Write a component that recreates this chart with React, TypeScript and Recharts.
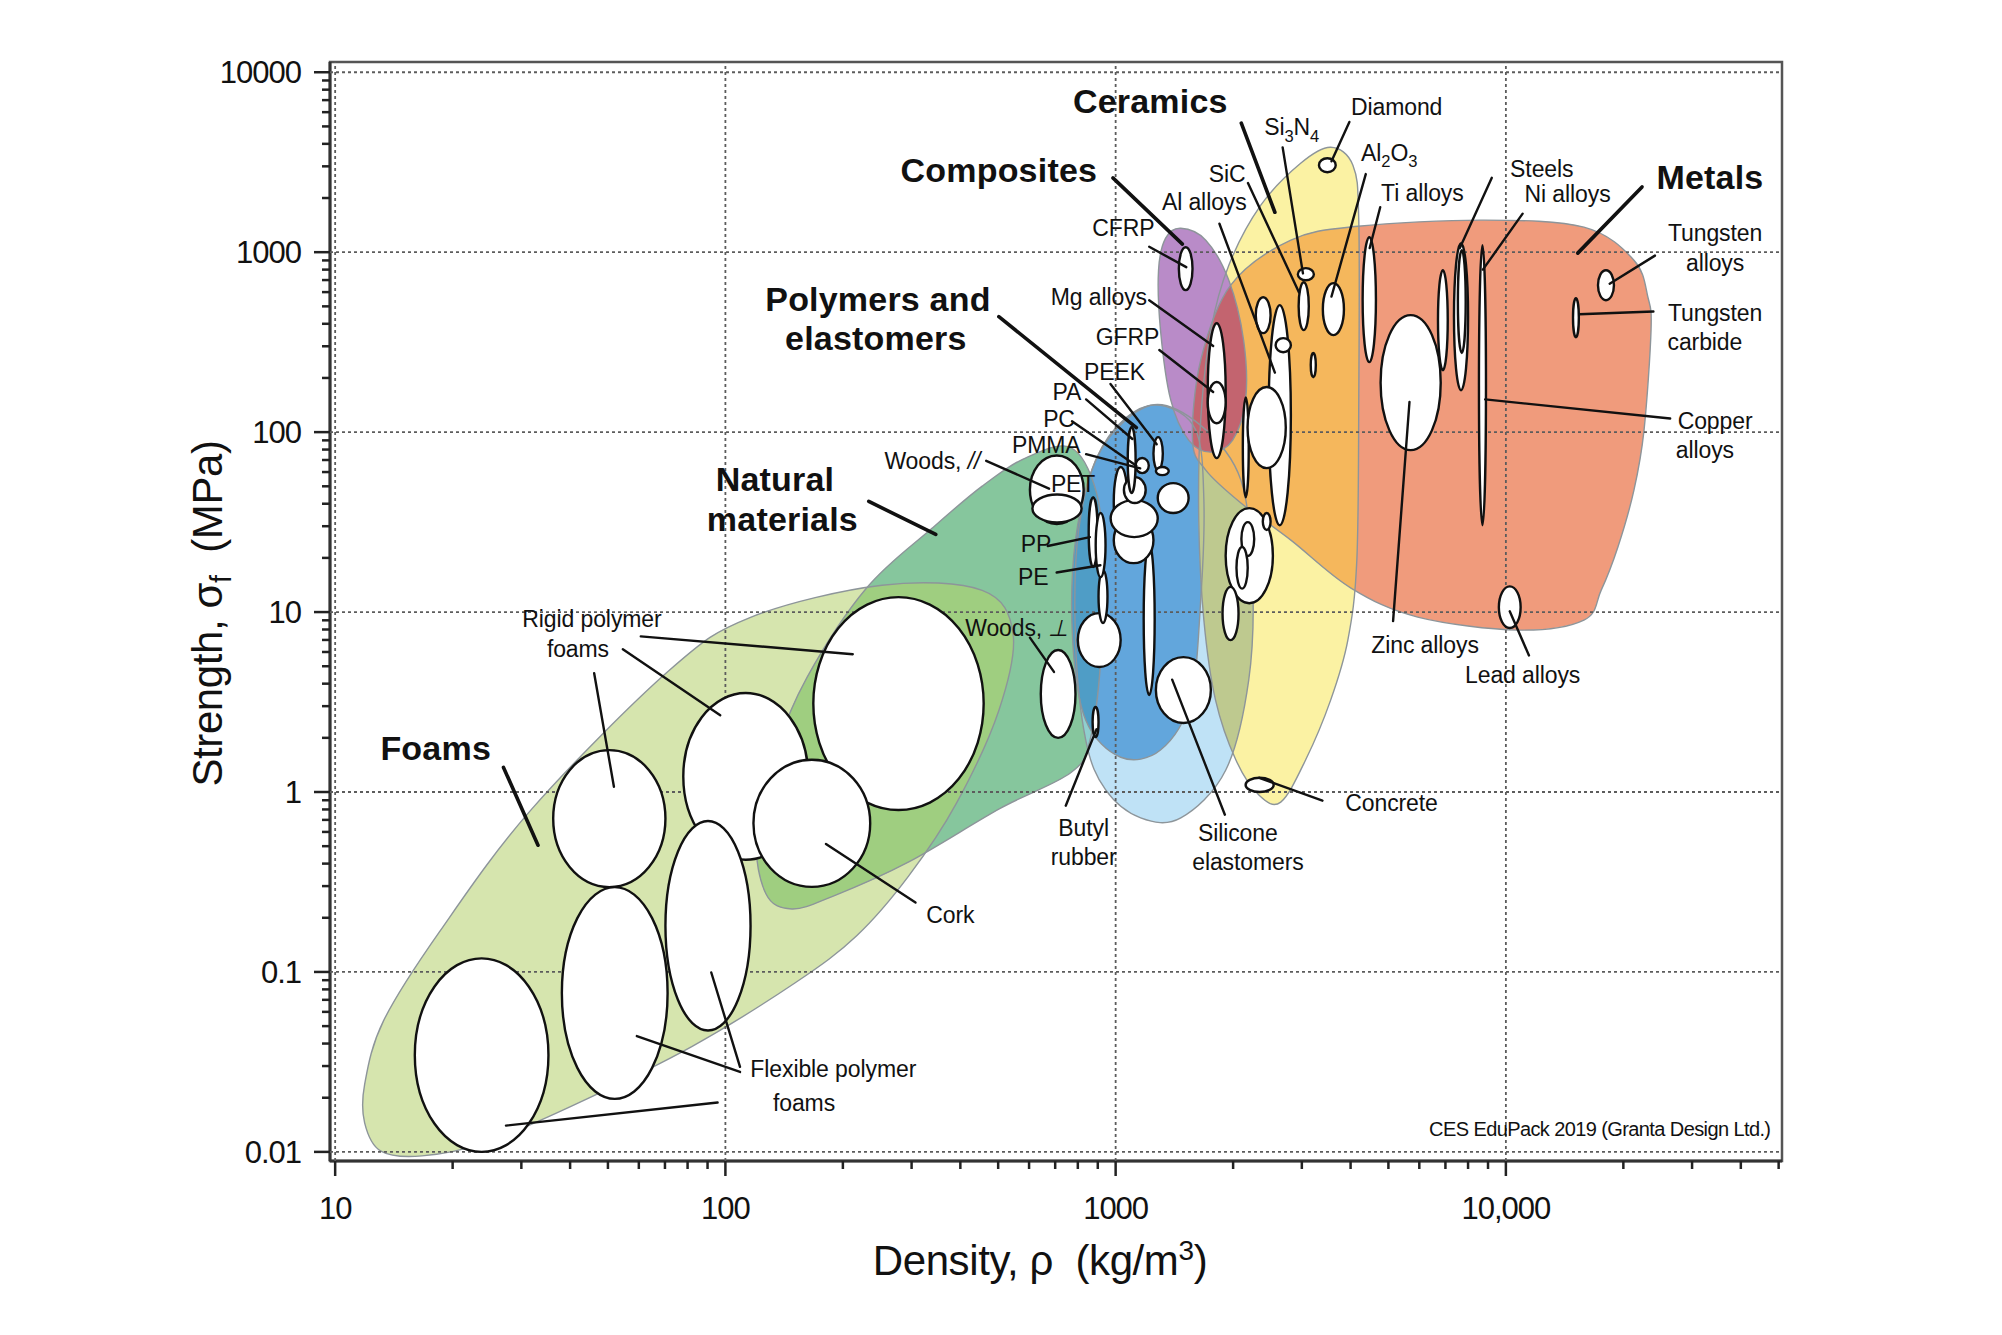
import React from 'react';
import { ScatterChart, Scatter, XAxis, YAxis, ReferenceArea } from 'recharts';

const FONT = '"Liberation Sans", Arial, Helvetica, sans-serif';

// axes (density kg/m3, strength MPa)
const X_DOMAIN = [9.7, 51000];
const Y_DOMAIN = [0.0089, 11400];
const X_MAJOR = [10, 100, 1000, 10000];
const X_MAJOR_LABELS = ['10', '100', '1000', '10,000'];
const X_MINOR = [20, 30, 40, 50, 60, 70, 80, 90, 200, 300, 400, 500, 600, 700, 800, 900,
  2000, 3000, 4000, 5000, 6000, 7000, 8000, 9000, 20000, 30000, 40000, 50000];
const Y_MAJOR = [0.01, 0.1, 1, 10, 100, 1000, 10000];
const Y_MAJOR_LABELS = ['0.01', '0.1', '1', '10', '100', '1000', '10000'];
const Y_MINOR = [0.02, 0.03, 0.04, 0.05, 0.06, 0.07, 0.08, 0.09, 0.2, 0.3, 0.4, 0.5, 0.6, 0.7, 0.8, 0.9,
  2, 3, 4, 5, 6, 7, 8, 9, 20, 30, 40, 50, 60, 70, 80, 90, 200, 300, 400, 500, 600, 700, 800, 900,
  2000, 3000, 4000, 5000, 6000, 7000, 8000, 9000];

// family envelopes: [density, strength] outline points
const FOAMS_ENV = [[11.9, 0.0237], [13.3, 0.0535], [18.5, 0.167], [31.8, 0.798], [71.6, 4.72], [116, 9.35],
  [252, 14.1], [455, 13.2], [546, 7.57], [502, 2.84], [391, 0.867], [295, 0.342], [217, 0.159], [151, 0.0871],
  [82, 0.0385], [41.5, 0.0185], [24.4, 0.0113], [16.7, 0.0095], [13.1, 0.0101], [11.9, 0.0145]];
const NATURAL_ENV = [[127, 0.272], [120, 0.568], [134, 1.64], [162, 4.35], [230, 13.6], [339, 29.3], [455, 50.1],
  [589, 72], [767, 82], [893, 46.2], [927, 18.8], [914, 5.12], [859, 1.93], [767, 1.28], [506, 0.811],
  [295, 0.409], [189, 0.264], [148, 0.224]];
const ELASTOMERS_ENV = [[1230, 141], [1652, 109], [2094, 54.1], [2244, 15.1], [2193, 4.19], [1914, 1.32],
  [1469, 0.718], [1159, 0.718], [942, 1.03], [838, 1.95], [789, 6.98], [804, 28.6], [916, 79.4]];
const POLYMERS_ENV = [[1303, 141], [1603, 103], [1683, 41.9], [1652, 11.7], [1556, 3.24], [1303, 1.71],
  [1030, 1.56], [838, 2.51], [776, 6.98], [789, 25.1], [889, 69.8], [1062, 120]];
const CERAMICS_ENV = [[3556, 3828], [4055, 3041], [4198, 1507], [4198, 151], [4150, 19.4], [3936, 6.98],
  [3556, 3.24], [3069, 1.51], [2649, 0.879], [2328, 0.962], [2032, 1.51], [1803, 3.24], [1683, 9.03],
  [1633, 32.4], [1652, 117], [1754, 369], [1950, 847], [2355, 1824], [2979, 3119]];
const METALS_ENV = [[1574, 90.3], [1652, 251], [1972, 656], [2812, 1166], [4178, 1393], [8790, 1507],
  [15850, 1377], [21290, 903], [23120, 562], [23550, 369], [22600, 103], [21290, 47.6], [19370, 23.0],
  [17540, 13.2], [15850, 9.03], [10740, 7.94], [5943, 9.38], [4009, 13.6], [2812, 25.1], [2094, 40.4],
  [1702, 61.5]];
const COMPOSITES_ENV = [[1469, 1358], [1702, 1166], [1950, 698], [2128, 324], [2153, 151], [1995, 90.3],
  [1754, 77.4], [1538, 90.3], [1384, 151], [1303, 369], [1288, 794], [1343, 1197]];

// material bubbles: [densityLo, densityHi, strengthLo, strengthHi]
const POLYMER_BUBBLES = [[1180, 1259, 3.46, 24.2], [1268, 1754, 2.42, 5.62], [873, 904, 2.02, 2.97],
  [800, 1030, 4.95, 9.87], [904, 953, 8.69, 17.1], [853, 899, 17.8, 43.5], [889, 942, 15.6, 35.5],
  [989, 1074, 26.1, 64], [989, 1250, 18.7, 33.7], [971, 1282, 26.1, 41.9], [1050, 1194, 40.4, 56.2],
  [1282, 1538, 35.5, 52.1], [1074, 1125, 45.8, 107], [1250, 1321, 61.5, 93.8], [1268, 1368, 57.7, 64],
  [1125, 1216, 59.2, 71.8]];
const NATURAL_BUBBLES = [[643, 789, 2.0, 6.15], [603, 828, 30.8, 74.1], [612, 818, 31.5, 45]];
const FOAM_BUBBLES = [[36.2, 70.2, 0.296, 1.71], [78, 163, 0.42, 3.55], [168, 459, 0.794, 12.1],
  [118, 235, 0.297, 1.51], [16.0, 35.2, 0.0100, 0.119], [38.1, 71.1, 0.0197, 0.296], [70.2, 116, 0.0473, 0.69]];
const CERAMIC_BUBBLES = [[3319, 3664, 2782, 3327], [2286, 2495, 355, 562], [2944, 3126, 369, 681],
  [2930, 3221, 698, 815], [3396, 3846, 346, 673], [3162, 3258, 202, 275], [2118, 2193, 43.5, 156],
  [1914, 2529, 11.2, 37.8], [2100, 2265, 20.5, 31.6], [2040, 2180, 13.5, 23], [2383, 2495, 28.6, 35.5],
  [1879, 2065, 6.98, 13.8], [2153, 2541, 1.0, 1.2]];
const METAL_BUBBLES = [[1722, 1914, 71.8, 403], [2466, 2812, 30.4, 508], [2570, 2812, 278, 333],
  [2178, 2729, 63.1, 178], [4295, 4645, 245, 1211], [4775, 6808, 79.4, 447], [6699, 7096, 221, 794],
  [7362, 8000, 171, 1122], [7534, 7889, 275, 1026], [8531, 8892, 30.4, 1094], [17220, 18920, 541, 794],
  [14860, 15380, 337, 555], [9594, 10910, 8.15, 13.9]];
const COMPOSITE_BUBBLES = [[1452, 1574, 615, 1066], [1722, 1914, 112, 190]];

// labels: [density, strength] of the text centre
const FAMILY_LABELS = [
  { text: 'Ceramics', x: 1227, y: 6870 },
  { text: 'Composites', x: 502, y: 2851 },
  { text: 'Polymers and', x: 246, y: 548 },
  { text: 'elastomers', x: 243, y: 333 },
  { text: 'Natural', x: 134, y: 54.5 },
  { text: 'materials', x: 140, y: 33.0 },
  { text: 'Foams', x: 18.1, y: 1.75 },
  { text: 'Metals', x: 33340, y: 2630 },
];
const MATERIAL_LABELS = [
  { text: 'Si3N4', x: 2825, y: 4965, chem: true },
  { text: 'Diamond', x: 5248, y: 6442 },
  { text: 'Al2O3', x: 5023, y: 3582, chem: true },
  { text: 'SiC', x: 1932, y: 2716 },
  { text: 'Al alloys', x: 1687, y: 1897 },
  { text: 'Ti alloys', x: 6109, y: 2128 },
  { text: 'Steels', x: 12360, y: 2897 },
  { text: 'Ni alloys', x: 14390, y: 2094 },
  { text: 'Tungsten', x: 34360, y: 1282 },
  { text: 'alloys', x: 34360, y: 867 },
  { text: 'Tungsten', x: 34360, y: 459 },
  { text: 'carbide', x: 32360, y: 316 },
  { text: 'Copper', x: 34360, y: 115 },
  { text: 'alloys', x: 32360, y: 79.1 },
  { text: 'CFRP', x: 1047, y: 1371 },
  { text: 'Mg alloys', x: 906, y: 567 },
  { text: 'GFRP', x: 1072, y: 337 },
  { text: 'PEEK', x: 993, y: 217 },
  { text: 'PA', x: 750, y: 168 },
  { text: 'PC', x: 716, y: 119 },
  { text: 'PMMA', x: 664, y: 84.5 },
  { text: 'Woods, ', sym: '//', x: 339, y: 69.3 },
  { text: 'PET', x: 778, y: 51.8 },
  { text: 'PP', x: 625, y: 24.0 },
  { text: 'PE', x: 615, y: 15.7 },
  { text: 'Woods, ', sym: '⊥', x: 558, y: 8.2 },
  { text: 'Rigid polymer', x: 45.5, y: 9.2 },
  { text: 'foams', x: 41.9, y: 6.22 },
  { text: 'Zinc alloys', x: 6206, y: 6.53 },
  { text: 'Lead alloys', x: 11040, y: 4.5 },
  { text: 'Concrete', x: 5093, y: 0.867 },
  { text: 'Butyl', x: 828, y: 0.635 },
  { text: 'rubber', x: 828, y: 0.437 },
  { text: 'Silicone', x: 2056, y: 0.596 },
  { text: 'elastomers', x: 2183, y: 0.409 },
  { text: 'Cork', x: 377, y: 0.207 },
  { text: 'Flexible polymer', x: 189, y: 0.0288 },
  { text: 'foams', x: 159, y: 0.0188 },
];
const SOURCE_NOTE = [{ text: 'CES EduPack 2019 (Granta Design Ltd.)', x: 47640, y: 0.0134 }];

// leader lines: [x0, y0, x1, y1]
const FAMILY_LEADERS = [[2099, 5212, 2559, 1667], [984, 2588, 1483, 1109], [502, 438, 1130, 106],
  [233, 41.2, 346, 27.0], [27.0, 1.37, 33.1, 0.506], [22330, 2306, 15280, 988]];
const MATERIAL_LEADERS = [[2679, 3822, 3020, 762], [3972, 5297, 3574, 3199], [4375, 2716, 3574, 567],
  [2183, 2421, 2951, 597], [1845, 1439, 2559, 214], [4764, 1778, 4477, 1054], [9204, 2588, 7621, 1054],
  [11040, 1637, 8730, 800], [24100, 957, 18450, 668], [23880, 468, 15420, 452], [26360, 119, 8851, 152],
  [5140, 8.91, 5662, 147], [11460, 5.74, 10230, 10.1], [3388, 0.895, 2333, 1.2], [1905, 0.748, 1396, 4.21],
  [745, 0.839, 893, 2.23], [307, 0.243, 181, 0.514], [603, 7.21, 695, 4.65], [670, 23.3, 859, 26.1],
  [706, 16.6, 914, 18.2], [60.7, 7.33, 212, 5.83], [54.6, 6.22, 97.0, 2.67], [46.1, 4.57, 51.8, 1.07],
  [109, 0.0297, 92.0, 0.0993], [109, 0.0278, 59.3, 0.044], [95.5, 0.0188, 27.4, 0.014],
  [466, 69.3, 675, 48.5], [1219, 1072, 1517, 826], [1219, 541, 1778, 301], [1294, 286, 1778, 167],
  [970, 185, 1274, 85.7], [840, 152, 1104, 91.6], [773, 115, 1130, 65.0], [840, 75.4, 1156, 62.9]];

const toPts = (arr: number[][]) => arr.map(([x, y]) => ({ x, y }));
const toCorners = (arr: number[][]) => arr.flatMap(([x0, x1, y0, y1]) => [{ x: x0, y: y0 }, { x: x1, y: y1 }]);
const toPairs = (arr: number[][]) => arr.flatMap(([x0, y0, x1, y1]) => [{ x: x0, y: y0 }, { x: x1, y: y1 }]);

const GRID_DATA = [
  ...Y_MAJOR.flatMap((v) => [{ x: X_DOMAIN[0], y: v }, { x: X_DOMAIN[1], y: v }]),
  ...X_MAJOR.flatMap((v) => [{ x: v, y: Y_DOMAIN[0] }, { x: v, y: Y_DOMAIN[1] }]),
];

// closed Catmull-Rom curve through pixel points
function closedCurve(pts: { x: number; y: number }[]) {
  const n = pts.length;
  let d = `M${pts[0].x},${pts[0].y}`;
  for (let i = 0; i < n; i++) {
    const p0 = pts[(i - 1 + n) % n];
    const p1 = pts[i];
    const p2 = pts[(i + 1) % n];
    const p3 = pts[(i + 2) % n];
    d += `C${p1.x + (p2.x - p0.x) / 6},${p1.y + (p2.y - p0.y) / 6} ${p2.x - (p3.x - p1.x) / 6},${p2.y - (p3.y - p1.y) / 6} ${p2.x},${p2.y}`;
  }
  return d + 'Z';
}

const envelope = (id: string, fill: string, clipBy?: string) => (props: any) => {
  const pts = props.points || [];
  if (!pts.length) return <g />;
  const d = closedCurve(pts);
  return (
    <g>
      {!clipBy && (
        <defs>
          <clipPath id={`clip-${id}`}>
            <path d={d} />
          </clipPath>
        </defs>
      )}
      <path d={d} fill={fill} stroke="none" clipPath={clipBy ? `url(#clip-${clipBy})` : undefined} />
    </g>
  );
};

const outline = (props: any) => {
  const pts = props.points || [];
  if (!pts.length) return <g />;
  return <path d={closedCurve(pts)} fill="none" stroke="#8d959a" strokeWidth={1.4} />;
};

const bubbles = (props: any) => {
  const pts = props.points || [];
  const out = [];
  for (let i = 0; i + 1 < pts.length; i += 2) {
    const a = pts[i];
    const b = pts[i + 1];
    out.push(
      <ellipse key={i} cx={(a.x + b.x) / 2} cy={(a.y + b.y) / 2} rx={Math.abs(b.x - a.x) / 2}
        ry={Math.abs(b.y - a.y) / 2} fill="#fff" stroke="#111" strokeWidth={2.4} />
    );
  }
  return <g>{out}</g>;
};

const segments = (width: number, color: string, dash?: string) => (props: any) => {
  const pts = props.points || [];
  const out = [];
  for (let i = 0; i + 1 < pts.length; i += 2) {
    out.push(
      <line key={i} x1={pts[i].x} y1={pts[i].y} x2={pts[i + 1].x} y2={pts[i + 1].y}
        stroke={color} strokeWidth={width} strokeDasharray={dash} strokeLinecap={dash ? 'butt' : 'round'} />
    );
  }
  return <g>{out}</g>;
};

const noDot = () => <g />;

function richText(p: any, size: number) {
  if (p.sym) {
    return [<tspan key="a">{p.text}</tspan>, <tspan key="b" fontStyle="italic">{p.sym}</tspan>];
  }
  if (!p.chem) return p.text;
  const parts: string[] = p.text.match(/[0-9]+|[^0-9]+/g) || [];
  let low = false;
  return parts.map((s, i) => {
    if (/^[0-9]+$/.test(s)) {
      low = true;
      return <tspan key={i} dy={size * 0.3} fontSize={size * 0.72}>{s}</tspan>;
    }
    const dy = low ? -size * 0.3 : 0;
    low = false;
    return <tspan key={i} dy={dy}>{s}</tspan>;
  });
}

const makeLabel = (size: number, weight: number, spacing: number, anchor: string) => (props: any) => {
  const p = props.payload || props;
  return (
    <text x={props.cx} y={props.cy + size * 0.35} textAnchor={anchor} fontFamily={FONT} fontSize={size}
      fontWeight={weight} fill="#111" letterSpacing={spacing} style={{ whiteSpace: 'pre' }}>
      {richText(p, size)}
    </text>
  );
};
const FamilyLabel = makeLabel(34, 700, 0.2, 'middle');
const MaterialLabel = makeLabel(23, 400, -0.1, 'middle');
const NoteLabel = makeLabel(20, 400, -0.6, 'end');

const XTick = (props: any) => {
  const { x, y, payload } = props;
  const idx = X_MAJOR.indexOf(payload.value);
  const major = idx >= 0;
  return (
    <g>
      <line x1={x} y1={y} x2={x} y2={y + (major ? 15 : 8)} stroke="#222" strokeWidth={2.5} />
      {major && (
        <text x={x} y={y + 58} textAnchor="middle" fontFamily={FONT} fontSize={31} fill="#111" letterSpacing={-1}>
          {X_MAJOR_LABELS[idx]}
        </text>
      )}
    </g>
  );
};

const YTick = (props: any) => {
  const { x, y, payload } = props;
  const idx = Y_MAJOR.indexOf(payload.value);
  const major = idx >= 0;
  return (
    <g>
      <line x1={x} y1={y} x2={x - (major ? 16 : 8)} y2={y} stroke="#222" strokeWidth={2.5} />
      {major && (
        <text x={x - 29} y={y + 11} textAnchor="end" fontFamily={FONT} fontSize={31} fill="#111" letterSpacing={-1}>
          {Y_MAJOR_LABELS[idx]}
        </text>
      )}
    </g>
  );
};

const XTitle = (props: any) => {
  const vb = props.viewBox || { x: 330, y: 1161, width: 1452, height: 80 };
  const cx = vb.x + vb.width / 2 - 16;
  return (
    <text x={cx} y={vb.y + 114} textAnchor="middle" fontFamily={FONT} fontSize={42} fill="#111"
      letterSpacing={-0.4} style={{ whiteSpace: 'pre' }}>
      <tspan>Density, ρ  (kg/m</tspan>
      <tspan dy={-15} fontSize={28}>3</tspan>
      <tspan dy={15}>)</tspan>
    </text>
  );
};

const YTitle = (props: any) => {
  const vb = props.viewBox || { x: 230, y: 62, width: 100, height: 1099 };
  const cx = vb.x - 8;
  const cy = vb.y + vb.height / 2 + 2;
  return (
    <text x={cx} y={cy} transform={`rotate(-90 ${cx} ${cy})`} textAnchor="middle" fontFamily={FONT}
      fontSize={42} fill="#111" letterSpacing={-0.4} style={{ whiteSpace: 'pre' }}>
      <tspan>Strength, σ</tspan>
      <tspan dy={9} fontSize={29}>f</tspan>
      <tspan dy={-9}>  (MPa)</tspan>
    </text>
  );
};

export default function App() {
  const common = { isAnimationActive: false, shape: noDot, legendType: 'none' as const };
  return (
    <div style={{ position: 'absolute', left: 0, top: 0, width: 2002, height: 1335, background: '#fff' }}>
      <ScatterChart width={2002} height={1335} margin={{ top: 62, right: 220, bottom: 94, left: 230 }}>
        <XAxis type="number" dataKey="x" scale="log" domain={X_DOMAIN} allowDataOverflow
          ticks={[...X_MAJOR, ...X_MINOR]} interval={0} tick={<XTick />} tickLine={false} tickSize={0}
          tickMargin={0} axisLine={{ stroke: '#333', strokeWidth: 3 }} height={80} label={<XTitle />} />
        <YAxis type="number" dataKey="y" scale="log" domain={Y_DOMAIN} allowDataOverflow
          ticks={[...Y_MAJOR, ...Y_MINOR]} interval={0} tick={<YTick />} tickLine={false} tickSize={0}
          tickMargin={0} axisLine={{ stroke: '#333', strokeWidth: 3 }} width={100} label={<YTitle />} />

        {/* envelope fills and their overlaps */}
        <Scatter {...common} data={toPts(FOAMS_ENV)} line={envelope('foams', '#d6e5ae')} />
        <Scatter {...common} data={toPts(NATURAL_ENV)} line={envelope('natural', '#86c69d')} />
        <Scatter {...common} data={toPts(NATURAL_ENV)} line={envelope('nat-foam', '#9fce80', 'foams')} />
        <Scatter {...common} data={toPts(ELASTOMERS_ENV)} line={envelope('elastomers', '#bfe2f6')} />
        <Scatter {...common} data={toPts(POLYMERS_ENV)} line={envelope('polymers', '#62a6dc')} />
        <Scatter {...common} data={toPts(ELASTOMERS_ENV)} line={envelope('el-nat', '#8fcfcf', 'natural')} />
        <Scatter {...common} data={toPts(POLYMERS_ENV)} line={envelope('pol-nat', '#4f9dc6', 'natural')} />
        <Scatter {...common} data={toPts(CERAMICS_ENV)} line={envelope('ceramics', '#fbf2a3')} />
        <Scatter {...common} data={toPts(ELASTOMERS_ENV)} line={envelope('el-cer', '#bec98f', 'ceramics')} />
        <Scatter {...common} data={toPts(METALS_ENV)} line={envelope('metals', '#f09b7c')} />
        <Scatter {...common} data={toPts(METALS_ENV)} line={envelope('met-cer', '#f5b75c', 'ceramics')} />
        <Scatter {...common} data={toPts(COMPOSITES_ENV)} line={envelope('composites', '#b98bc8')} />
        <Scatter {...common} data={toPts(COMPOSITES_ENV)} line={envelope('comp-met', '#c3646f', 'metals')} />

        {/* envelope outlines */}
        <Scatter {...common} data={toPts(FOAMS_ENV)} line={outline} />
        <Scatter {...common} data={toPts(NATURAL_ENV)} line={outline} />
        <Scatter {...common} data={toPts(ELASTOMERS_ENV)} line={outline} />
        <Scatter {...common} data={toPts(POLYMERS_ENV)} line={outline} />
        <Scatter {...common} data={toPts(CERAMICS_ENV)} line={outline} />
        <Scatter {...common} data={toPts(METALS_ENV)} line={outline} />
        <Scatter {...common} data={toPts(COMPOSITES_ENV)} line={outline} />

        {/* dotted grid */}
        <Scatter {...common} data={GRID_DATA} line={segments(1.8, '#5c5c5c', '3 3')} />

        {/* material bubbles */}
        <Scatter {...common} data={toCorners(POLYMER_BUBBLES)} line={bubbles} />
        <Scatter {...common} data={toCorners(NATURAL_BUBBLES)} line={bubbles} />
        <Scatter {...common} data={toCorners(FOAM_BUBBLES)} line={bubbles} />
        <Scatter {...common} data={toCorners(CERAMIC_BUBBLES)} line={bubbles} />
        <Scatter {...common} data={toCorners(METAL_BUBBLES)} line={bubbles} />
        <Scatter {...common} data={toCorners(COMPOSITE_BUBBLES)} line={bubbles} />

        {/* leaders and labels */}
        <Scatter {...common} data={toPairs(FAMILY_LEADERS)} line={segments(3.6, '#111')} />
        <Scatter {...common} data={toPairs(MATERIAL_LEADERS)} line={segments(2.4, '#111')} />
        <Scatter isAnimationActive={false} legendType="none" data={FAMILY_LABELS} shape={FamilyLabel} />
        <Scatter isAnimationActive={false} legendType="none" data={MATERIAL_LABELS} shape={MaterialLabel} />
        <Scatter isAnimationActive={false} legendType="none" data={SOURCE_NOTE} shape={NoteLabel} />

        <ReferenceArea x1={X_DOMAIN[0]} x2={X_DOMAIN[1]} y1={Y_DOMAIN[0]} y2={Y_DOMAIN[1]} fill="none"
          fillOpacity={0} stroke="#555" strokeWidth={2.5} />
      </ScatterChart>
    </div>
  );
}
